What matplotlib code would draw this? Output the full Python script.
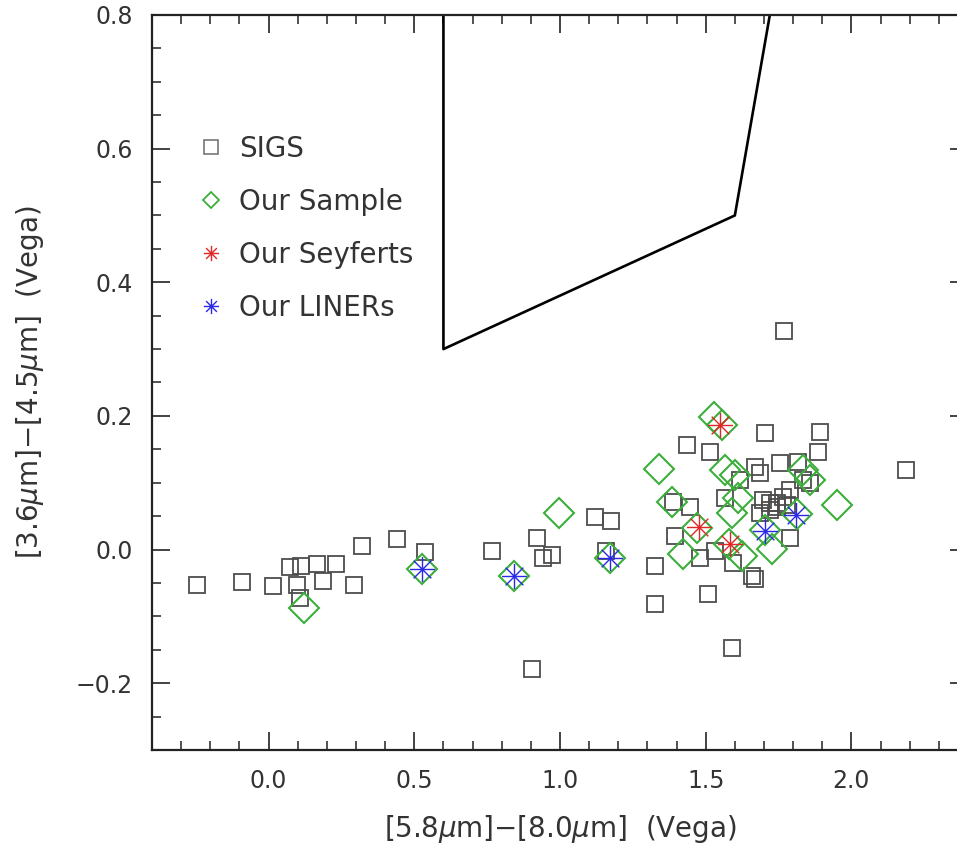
import matplotlib
matplotlib.use("Agg")
import matplotlib.pyplot as plt
from matplotlib.path import Path
from matplotlib.lines import Line2D
from matplotlib.ticker import MultipleLocator

# ---------------- data ----------------
sigs_x = [-0.245, -0.090, 0.016, 0.075, 0.112, 0.098, 0.107, 0.165, 0.188, 0.232,
          0.293, 0.321, 0.439, 0.538, 0.767, 0.921, 0.942, 0.973, 0.904, 1.121,
          1.175, 1.158, 1.327, 1.327, 1.507, 1.590,
          1.767, 2.188, 1.893, 1.886, 1.704, 1.436, 1.516, 1.756, 1.818, 1.670,
          1.687, 1.619, 1.567, 1.389, 1.447, 1.698, 1.722, 1.746, 1.722, 1.746,
          1.790, 1.835, 1.859, 1.687, 1.396, 1.481, 1.533, 1.595, 1.790, 1.660,
          1.670, 1.766, 1.780]
sigs_y = [-0.053, -0.049, -0.054, -0.026, -0.024, -0.053, -0.072, -0.021, -0.047, -0.021,
          -0.053, 0.006, 0.016, -0.004, -0.002, 0.018, -0.012, -0.008, -0.179, 0.048,
          0.043, -0.002, -0.025, -0.081, -0.067, -0.147,
          0.327, 0.119, 0.176, 0.146, 0.174, 0.156, 0.146, 0.129, 0.131, 0.124,
          0.114, 0.104, 0.077, 0.071, 0.063, 0.074, 0.069, 0.069, 0.059, 0.063,
          0.089, 0.104, 0.099, 0.054, 0.021, -0.012, -0.002, -0.020, 0.017, -0.039,
          -0.044, 0.078, 0.066]

sample_x = [0.121, 0.527, 0.841, 0.998, 1.173, 1.338, 1.385, 1.423, 1.470, 1.530,
            1.556, 1.567, 1.601, 1.612, 1.590, 1.581, 1.625, 1.727, 1.704, 1.813,
            1.835, 1.859, 1.951]
sample_y = [-0.088, -0.029, -0.040, 0.054, -0.012, 0.121, 0.071, -0.006, 0.032, 0.199,
            0.186, 0.119, 0.111, 0.077, 0.054, 0.009, -0.009, 0.001, 0.029, 0.053,
            0.119, 0.104, 0.066]

seyfert_x = [1.548, 1.476, 1.582]
seyfert_y = [0.186, 0.034, 0.009]

liner_x = [0.527, 0.841, 1.173, 1.704, 1.811]
liner_y = [-0.029, -0.040, -0.012, 0.028, 0.051]

# AGN wedge (Stern et al. 2005)
wedge_x = [0.6, 0.6, 1.6, 1.72]
wedge_y = [0.8, 0.3, 0.5, 0.8]

labels = ["SIGS", "Our Sample", "Our Seyferts", "Our LINERs"]

# ---------------- style ----------------
plt.rcParams['font.family'] = ['DejaVu Sans']
plt.rcParams['mathtext.fontset'] = 'dejavusans'

c_sq = '#4d4d4d'
c_green = '#3cae3c'
c_red = '#e02828'
c_blue = '#2a2ae6'
c_text = '#333333'

# 8-armed asterisk marker
star = Path([(0, -1), (0, 1), (-1, 0), (1, 0),
             (-0.7071, -0.7071), (0.7071, 0.7071), (-0.7071, 0.7071), (0.7071, -0.7071)],
            [Path.MOVETO, Path.LINETO] * 4)

fig = plt.figure(figsize=(9.57, 8.46), dpi=100)
ax = fig.add_axes([152/957, 96/846, 816/957, 735/846])

ax.plot(wedge_x, wedge_y, color='black', lw=1.9, zorder=2)

ax.plot(sigs_x, sigs_y, ls='none', marker='s', ms=11.2, mfc='none', mec=c_sq, mew=1.3, zorder=3)
ax.plot(sample_x, sample_y, ls='none', marker='D', ms=15.0, mfc='none', mec=c_green, mew=1.5, zorder=4)
ax.plot(seyfert_x, seyfert_y, ls='none', marker=star, ms=18.0, mfc='none', mec=c_red, mew=1.0, zorder=5)
ax.plot(liner_x, liner_y, ls='none', marker=star, ms=18.0, mfc='none', mec=c_blue, mew=1.0, zorder=5)

ax.set_xlim(-0.4, 2.4)
ax.set_ylim(-0.3, 0.8)

ax.xaxis.set_major_locator(MultipleLocator(0.5))
ax.xaxis.set_minor_locator(MultipleLocator(0.1))
ax.yaxis.set_major_locator(MultipleLocator(0.2))
ax.yaxis.set_minor_locator(MultipleLocator(0.05))
ax.xaxis.set_major_formatter(matplotlib.ticker.FormatStrFormatter('%.1f'))
ax.yaxis.set_major_formatter(matplotlib.ticker.FuncFormatter(lambda v, p: ('%.1f' % v).replace('-', '\u2212') if abs(v) > 1e-9 else '0.0'))

ax.tick_params(which='both', direction='in', top=True, right=True, colors='#222222',
               labelcolor=c_text, labelsize=17)
ax.tick_params(which='major', length=13, width=1.2, pad=14)
ax.tick_params(which='minor', length=6.5, width=1.1)
for s in ax.spines.values():
    s.set_linewidth(1.6)
    s.set_color('#222222')

ax.set_xlabel('[5.8$\\mu$m]\u2212[8.0$\\mu$m]  (Vega)', fontsize=20, color=c_text, labelpad=14)
ax.set_ylabel('[3.6$\\mu$m]\u2212[4.5$\\mu$m]  (Vega)', fontsize=20, color=c_text, labelpad=21)

handles = [
    Line2D([], [], ls='none', marker='s', ms=10.5, mfc='none', mec='#777777', mew=1.2),
    Line2D([], [], ls='none', marker='D', ms=8.0, mfc='none', mec=c_green, mew=1.3),
    Line2D([], [], ls='none', marker=star, ms=11.0, mfc='none', mec=c_red, mew=1.0),
    Line2D([], [], ls='none', marker=star, ms=11.0, mfc='none', mec=c_blue, mew=1.0),
]
leg = ax.legend(handles, labels, loc='upper left', bbox_to_anchor=(0.045, 0.852),
                frameon=False, fontsize=20, handlelength=0.8, handletextpad=0.62,
                labelspacing=0.9, borderaxespad=0)
for t in leg.get_texts():
    t.set_color(c_text)

fig.savefig('out.png', dpi=100)
